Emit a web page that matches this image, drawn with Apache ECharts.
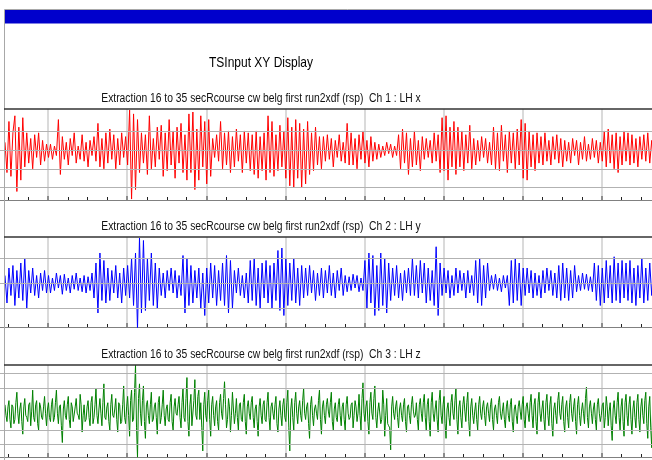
<!DOCTYPE html>
<html><head><meta charset="utf-8">
<script src="https://cdn.jsdelivr.net/npm/echarts@6/dist/echarts.min.js"></script>
<style>html,body{margin:0;padding:0;background:#fff;overflow:hidden;width:652px;height:460px;position:relative}#c{position:absolute;left:-31px;top:0;width:720px;height:460px}</style>
</head><body><div id="c"></div>
<script>
const title = 'TSInput XY Display';
const subtitles = [
  'Extraction 16 to 35 secRcourse cw belg first run2xdf (rsp)  Ch 1 : LH x',
  'Extraction 16 to 35 secRcourse cw belg first run2xdf (rsp)  Ch 2 : LH y',
  'Extraction 16 to 35 secRcourse cw belg first run2xdf (rsp)  Ch 3 : LH z'
];
const timeMin = 16, timeMax = 25, timeMajor = 1;
const sampleStart = 16.455, sampleStep = 0.025;

const ch1 = [0.4,-1.2,1.5,-1.4,0.9,1.8,-2.2,1.2,-1.6,1.7,-0.9,
0.9,-0.7,0.6,-1.0,0.8,-0.4,0.9,-0.8,0.5,-0.6,0.3,
-0.4,0.3,-0.5,0.2,-0.3,1.6,-1.3,
0.7,-0.5,0.4,-0.8,0.6,-0.3,0.9,-0.7,0.2,-0.5,0.8,-0.6,0.4,-0.9,0.5,-0.3,0.7,-0.6,1.4,-0.9,
0.6,-1.0,0.9,-0.7,1.1,-0.5,0.8,-1.0,0.6,-0.8,0.9,-0.4,0.7,
-0.8,2.1,-2.6,1.9,
-2.1,1.6,-1.2,0.9,-0.7,
0.8,-1.3,1.8,-1.0,0.6,-0.9,1.2,-0.5,
1.3,-1.4,0.9,-1.1,1.6,-0.8,1.0,-1.5,1.2,-0.7,1.4,-1.2,0.8,-1.6,
1.9,-1.2,2.0,-2.1,1.1,-1.6,1.8,-0.9,1.5,-1.8,
1.6,-1.4,0.6,-0.4,0.8,-0.6,1.5,-1.0,
0.9,-0.8,1.0,-1.2,0.7,-0.9,1.1,-0.6,0.8,-1.2,1.0,-0.7,0.9,-1.1,
0.8,-1.3,1.0,-1.5,0.7,-1.1,0.9,-1.6,1.8,-1.2,
1.5,-1.4,0.8,-1.1,1.3,-0.9,1.0,-1.5,
1.7,-1.9,1.2,-2.0,1.6,-1.5,1.4,-2.0,1.1,-1.8,1.5,-1.3,
0.9,-1.1,1.2,-0.8,0.7,-1.0,
0.7,-0.6,0.8,-0.5,0.6,-0.9,0.5,-0.4,0.8,-0.6,0.4,-0.7,1.4,-0.8,
0.9,-0.8,0.6,-1.0,0.8,-0.5,1.0,-0.7,0.5,-0.9,0.7,-0.6,0.4,-0.5,
0.3,-0.4,0.2,-0.3,0.4,-0.2,0.3,-0.4,0.2,-0.3,
0.8,-1.0,1.1,-0.7,0.9,-1.3,0.6,-0.9,1.0,-0.8,0.5,-1.1,0.7,
-0.5,0.6,-0.4,0.5,-0.7,0.9,-0.6,0.8,-1.2,
1.7,-1.1,1.8,-1.6,1.2,-0.9,1.5,-1.3,
1.2,-0.9,1.0,-1.1,0.8,-0.7,1.3,-1.0,0.6,-0.8,
0.5,-0.6,0.7,-0.4,0.6,-0.7,0.4,
-0.8,1.2,-1.0,0.9,-1.1,1.3,-0.6,0.8,-1.2,1.0,-0.7,0.9,-1.0,1.1,-0.8,
1.6,-1.5,1.4,-1.6,
1.0,-0.9,0.8,-1.1,0.9,-0.7,
0.7,-0.8,0.9,-0.6,0.5,-0.8,0.7,-0.5,0.8,-0.7,0.6,-0.9,
0.5,-0.6,0.4,-0.7,0.6,-0.3,0.5,-0.8,0.4,-0.5,0.7,-0.6,0.3,-0.5,0.6,-0.4,0.5,-0.7,0.4,-0.6,
1.0,-0.9,1.1,-0.7,0.8,-1.0,0.9,-1.2,0.7,-0.8,1.0,-0.6,0.9,-0.8,
0.8,-0.7,0.6,-0.9,0.7,-0.5,0.8,-0.6,0.9,-0.7,0.5,-0.8,0.6,-0.5,0.7,-0.6];

const ch2 = [0.3,-0.8,0.6,-0.5,0.7,-0.9,0.5,-0.6,0.8,-0.7,
1.0,-1.0,
0.5,-0.4,0.6,-0.5,0.3,-0.6,0.4,-0.3,0.5,-0.4,
0.3,-0.4,0.2,-0.3,0.4,-0.2,0.3,-0.45,0.35,-0.3,0.2,-0.4,0.3,-0.25,0.4,-0.3,0.2,-0.35,0.3,-0.4,0.25,-0.3,0.4,
-0.6,0.8,-1.2,1.2,-0.7,0.9,-0.8,
0.6,-0.7,0.5,-0.4,0.7,-0.6,0.4,-0.8,0.6,-0.5,0.7,
-0.6,1.0,-0.9,1.2,-1.85,1.8,-1.2,1.7,
-1.1,1.0,-0.7,1.2,-0.9,0.8,-1.0,0.6,
-0.5,0.4,-0.6,0.5,-0.3,0.6,-0.4,0.5,-0.6,0.3,
-0.5,1.1,-1.2,1.0,-0.9,
0.7,-0.8,0.5,-0.6,0.6,-1.0,0.4,-1.3,
0.6,-0.8,0.8,-0.6,0.7,-0.9,0.5,-0.7,0.8,
-0.9,1.1,-1.2,0.9,-1.0,
0.5,-0.4,0.6,-0.5,0.3,-0.6,0.4,
-0.8,0.9,-0.7,1.0,-0.9,0.6,-1.0,0.8,-0.6,0.9,-0.8,0.7,-1.0,0.8,-0.7,
1.3,-1.1,1.4,-1.3,1.0,
-0.9,0.8,-0.7,1.0,-0.8,0.6,-0.9,0.7,-0.6,
0.6,-0.5,0.7,-0.4,0.5,-0.7,0.4,-0.5,0.6,-0.6,0.5,-0.4,0.7,-0.5,0.4,-0.6,0.5,-0.3,0.6,-0.5,
0.3,-0.35,0.25,-0.3,0.35,-0.2,0.3,-0.35,0.2,-0.3,
0.9,-1.0,1.2,-0.8,1.1,-1.3,0.7,-1.1,1.2,-0.9,1.0,-1.2,0.8,-0.7,
0.6,-0.5,0.7,-0.6,0.4,-0.7,0.5,-0.4,0.6,-0.5,
1.0,-0.5,0.7,-0.6,0.9,-0.4,
0.8,-0.8,0.6,-0.7,0.5,
-0.9,1.45,-1.3,0.8,
-0.5,0.6,-0.4,0.5,-0.6,0.3,-0.5,0.6,-0.4,0.5,-0.3,0.4,-0.6,0.5,-0.4,0.3,-0.5,
0.9,-0.8,1.0,-0.9,0.7,-0.6,0.8,
-0.3,0.3,-0.25,0.35,-0.3,0.2,-0.35,0.3,-0.2,0.3,
-0.9,0.9,-0.8,1.0,-0.7,0.8,-0.9,0.6,
-0.5,0.6,-0.4,0.5,-0.6,0.4,-0.5,0.3,-0.6,0.5,-0.4,0.6,-0.3,0.5,-0.5,0.4,-0.6,
0.7,-0.7,0.8,-0.6,0.6,-0.7,0.5,-0.6,0.7,
-0.35,0.3,-0.3,0.4,-0.25,0.35,-0.3,0.25,-0.35,
0.8,-0.7,0.7,-0.9,0.6,-0.8,0.9,-0.6,0.7,-0.8,
1.05,-0.7,0.8,-0.8,0.9,-0.6,
0.8,-0.7,0.9,-0.8,0.6,-0.9,0.7,-0.6,1.0,-0.8,0.6,-0.7,0.8,-0.5,0.7,-0.8,0.6,-0.5];

// Ch 3 is sampled twice as often: ch3 holds the main samples, ch3Mid the samples half a step later
const ch3 = [0.2,-0.6,0.4,-0.9,0.1,-0.5,0.8,-0.7,0.3,-1.2,0.5,-0.4,0.2,-0.8,0.9,-0.6,0.4,-1.0,0.1,-0.5,0.6,-0.8,
0.3,-0.6,0.5,-0.4,0.9,-0.7,0.2,-1.6,0.4,-0.5,0.6,-0.9,0.1,-0.6,0.5,-0.3,0.7,-1.1,0.2,-0.5,0.4,-0.8,0.6,-0.4,1.0,-0.7,
0.5,-0.8,1.2,-0.5,0.3,-1.0,0.7,-0.4,0.5,-1.1,0.2,-0.6,1.1,-0.7,
0.6,-1.3,0.9,-0.5,2.1,-2.3,1.2,-0.8,1.1,-1.4,
0.4,-0.7,0.8,-0.5,0.3,-1.2,0.6,-0.4,0.9,-0.8,0.2,-0.6,0.7,-1.0,0.5,-0.3,0.6,
-0.9,1.0,-0.6,1.5,-1.3,0.7,-0.8,1.4,-0.5,0.9,0.3,-2.0,0.8,-0.6,
0.9,-1.3,0.6,-0.8,0.4,-1.0,0.7,-0.5,
1.3,-0.9,0.5,-1.1,0.8,
-0.7,0.5,-1.0,0.3,-0.6,0.7,-1.2,0.4,-0.5,0.6,-0.9,0.2,-1.3,0.5,-0.7,0.4,-0.6,0.8,-1.0,0.3,-0.5,0.6,-1.1,0.4,-0.8,0.5,
-0.6,0.9,-2.0,0.5,-1.0,0.8,-0.7,
0.4,-0.6,1.0,-0.5,0.3,-1.4,0.6,-0.8,0.2,-0.5,0.9,-1.2,0.4,-0.7,0.5,-0.4,0.8,-1.0,0.3,-0.6,
0.5,-0.8,0.3,-1.0,0.6,-0.5,0.2,-0.9,0.4,-0.6,
0.7,-1.0,1.25,-0.6,0.4,-1.2,0.8,-0.5,1.1,-0.9,0.3,-0.7,0.9,-1.3,0.5,-0.8,-1.95,0.6,
-0.5,0.4,-0.9,0.3,-0.6,0.5,-1.1,0.2,-0.7,0.6,-0.4,0.3,-1.0,0.5,-0.6,
0.7,-1.0,0.5,-1.3,0.8,-0.6,0.4,-1.1,0.9,-0.7,0.6,-1.4,0.3,-0.8,0.7,-0.5,1.0,-1.2,0.4,-0.9,0.6,-0.6,0.8,-1.3,0.5,-0.7,0.3,-1.0,0.6,-0.5,
0.4,-0.8,0.3,-0.6,0.5,-1.0,0.2,-0.7,0.6,-0.5,0.3,-0.9,0.4,-0.6,0.5,-1.1,0.2,-0.7,0.4,-0.5,0.6,-0.9,0.3,-0.6,
0.7,-0.9,0.5,-1.2,0.8,-0.6,0.4,-1.0,0.7,-0.8,0.6,-1.3,0.3,-0.7,0.8,-0.5,0.6,-1.1,0.4,-0.9,0.7,-0.6,0.5,-1.2,0.6,-0.8,0.3,-0.7,1.05,-0.9,
0.4,-0.7,0.3,-1.0,0.5,-0.6,0.2,-0.9,0.6,-0.8,0.3,-1.5,0.4,-0.7,
0.8,-1.0,0.5,-1.3,0.7,-0.8,0.6,-1.2,0.4,-0.9,0.7,-1.1,0.5,-0.7,0.8,-1.4,0.6,-1.85,0.5,-1.0,0.7,-0.6,0.4];

const ch3Mid = [-0.3,0.1,-0.5,0.2,-0.7,0.3,-0.2,0.0,-0.6,0.1,-0.3,-0.6,0.3,-0.1,-0.4,0.2,-0.7,0.3,-0.4,0.1,-0.2,0.0,
-0.4,0.2,-0.6,0.3,-0.2,0.1,-0.8,0.0,-0.3,0.2,-0.5,0.3,-0.6,0.1,-0.2,-0.5,0.2,-0.3,-0.6,0.1,-0.4,0.3,-0.7,0.2,-0.3,0.0,
-0.2,0.3,-0.4,0.1,-0.6,0.2,-0.3,0.0,-0.5,0.3,-0.7,0.2,-0.4,0.1,
-0.3,0.4,-0.6,0.8,-0.9,0.5,-0.2,0.4,-0.6,0.2,
-0.3,0.2,-0.6,0.1,-0.4,0.3,-0.7,0.2,-0.3,0.0,-0.5,0.3,-0.6,0.1,-0.2,0.2,-0.4,
0.3,-0.4,0.5,-0.6,0.2,-0.8,0.4,-0.3,0.6,-0.5,-0.9,0.2,-0.3,0.4,
-0.5,0.2,-0.3,0.1,-0.6,0.3,-0.2,0.5,
0.2,-0.5,0.1,-0.3,0.0,
-0.2,-0.4,0.2,-0.5,0.3,-0.6,0.1,-0.2,0.3,-0.4,0.0,-0.6,0.1,-0.3,0.2,-0.5,0.3,-0.4,0.1,-0.2,0.2,-0.7,0.0,-0.3,0.2,-0.4,
0.3,-0.9,0.0,-0.4,0.3,-0.2,0.1,
-0.3,0.4,-0.2,0.1,-0.7,0.2,-0.3,0.0,-0.2,0.4,-0.5,0.1,-0.3,0.2,-0.1,0.3,-0.6,0.0,-0.4,0.2,
-0.3,0.1,-0.5,0.2,-0.2,-0.4,0.3,-0.3,0.1,-0.2,
-0.3,0.5,-0.2,0.1,-0.6,0.3,-0.2,0.5,-0.4,-0.1,0.3,-0.5,0.2,-0.3,-0.7,-0.9,0.1,-0.2,
0.1,-0.4,0.0,-0.3,0.2,-0.6,0.1,-0.3,0.2,-0.1,-0.3,-0.5,0.2,-0.2,0.3,
-0.4,0.2,-0.6,0.3,-0.2,0.0,-0.5,0.4,-0.3,0.2,-0.7,0.0,-0.4,0.3,-0.2,0.4,-0.5,0.1,-0.4,0.2,-0.1,0.3,-0.6,0.1,-0.3,-0.1,-0.5,0.2,-0.2,0.1,
-0.3,0.1,-0.2,0.2,-0.5,0.0,-0.3,0.3,-0.2,-0.1,-0.5,0.1,-0.3,0.2,-0.6,0.0,-0.3,0.1,-0.1,0.2,-0.5,0.1,-0.2,0.3,
-0.3,0.2,-0.6,0.3,-0.2,0.0,-0.5,0.3,-0.3,0.2,-0.7,0.0,-0.3,0.4,-0.2,0.2,-0.6,0.1,-0.4,0.3,-0.2,0.1,-0.6,0.2,-0.3,-0.1,-0.2,0.5,-0.4,0.1,
-0.2,0.0,-0.5,0.2,-0.2,-0.3,0.3,-0.4,0.1,-0.1,-0.8,0.0,-0.3,0.3,
-0.4,0.1,-0.6,0.3,-0.3,0.2,-0.5,0.0,-0.4,0.3,-0.5,0.1,-0.3,0.4,-0.7,0.1,-0.9,0.2,-0.4,0.2,-0.1];

const ch1Levels = [-2, -1, 0, 1];
const ch2Levels = [-1, 0, 1];
const ch3Levels = [-1.7, -1, 1, 1.7];

function samples(main, mid) {
  const out = [];
  main.forEach((v, i) => {
    out.push([sampleStart + i * sampleStep, v]);
    if (mid && i < mid.length) out.push([sampleStart + (i + 0.5) * sampleStep, mid[i]]);
  });
  return out;
}

const panels = [
  {data: samples(ch1), color: '#ff0000', levels: ch1Levels, min: -2.65, max: 2.16, top: 109, height: 91, sub: subtitles[0], subY: 99},
  {data: samples(ch2), color: '#0000ff', levels: ch2Levels, min: -1.76, max: 1.84, top: 237, height: 90, sub: subtitles[1], subY: 227},
  {data: samples(ch3, ch3Mid), color: '#008000', levels: ch3Levels, min: -2.29, max: 2.1, top: 365, height: 92, sub: subtitles[2], subY: 355}
];

// canvas is shifted 31px left of the page; OX converts page x to canvas x
const OX = 31;
const chart = echarts.init(document.getElementById('c'), null, {renderer: 'canvas'});
const FONT = '"Liberation Sans", Arial, sans-serif';
const grids = [], xAxes = [], yAxes = [], series = [];
const graphics = [
  {type: 'rect', shape: {x: 4.5 + OX, y: 9.5, width: 700, height: 460}, style: {fill: 'none', stroke: '#a8a8a8', lineWidth: 1}, z: 10},
  {type: 'rect', shape: {x: 5 + OX, y: 10, width: 700, height: 13.5}, style: {fill: '#0000cc'}, z: 10},
  {type: 'text', x: 261 + OX, y: 63, scaleX: 0.8, style: {text: title, font: '15px ' + FONT, fill: '#000', align: 'center', verticalAlign: 'middle', textAlign: 'center', textVerticalAlign: 'middle'}, z: 10}
];
panels.forEach((p, k) => {
  grids.push({left: 0, width: 712, top: p.top, height: p.height, containLabel: false});
  xAxes.push({
    gridIndex: k, type: 'value', min: timeMin, max: timeMax, interval: timeMajor, position: 'bottom',
    axisLine: {show: true, onZero: false, lineStyle: {color: '#808080', width: 1}},
    axisTick: {show: true, inside: true, length: 4, lineStyle: {color: '#8c8c8c', width: 2}},
    minorTick: {show: true, splitNumber: 4, length: 3, lineStyle: {color: '#222', width: 1}},
    axisLabel: {show: false},
    splitLine: {show: true, lineStyle: {color: '#dadada', width: 2}},
    minorSplitLine: {show: false}
  });
  yAxes.push({gridIndex: k, type: 'value', min: p.min, max: p.max, show: false, splitLine: {show: false}});
  series.push({
    type: 'line', xAxisIndex: k, yAxisIndex: k, data: [], z: 1, silent: true, animation: false,
    markLine: {silent: true, animation: false, symbol: ['none', 'none'], label: {show: false},
      lineStyle: {color: '#b2b2b2', width: 1, type: 'solid'},
      data: p.levels.map(v => ({yAxis: v}))}
  });
  series.push({
    type: 'line', xAxisIndex: k, yAxisIndex: k, z: 3, animation: false, symbol: 'none', showSymbol: false,
    clip: true, silent: true,
    lineStyle: {color: p.color, width: 1},
    data: p.data
  });
  graphics.push({type: 'line', shape: {x1: 4 + OX, y1: p.top, x2: 720, y2: p.top}, style: {stroke: '#333', lineWidth: 1.3}, z: 10});
  graphics.push({type: 'text', x: 261 + OX, y: p.subY, scaleX: 0.86, style: {text: p.sub, font: '12px ' + FONT, fill: '#111', align: 'center', verticalAlign: 'middle', textAlign: 'center', textVerticalAlign: 'middle'}, z: 10});
});

chart.setOption({
  animation: false,
  backgroundColor: '#ffffff',
  grid: grids, xAxis: xAxes, yAxis: yAxes, series: series,
  graphic: {elements: graphics}
});
</script>
</body></html>
